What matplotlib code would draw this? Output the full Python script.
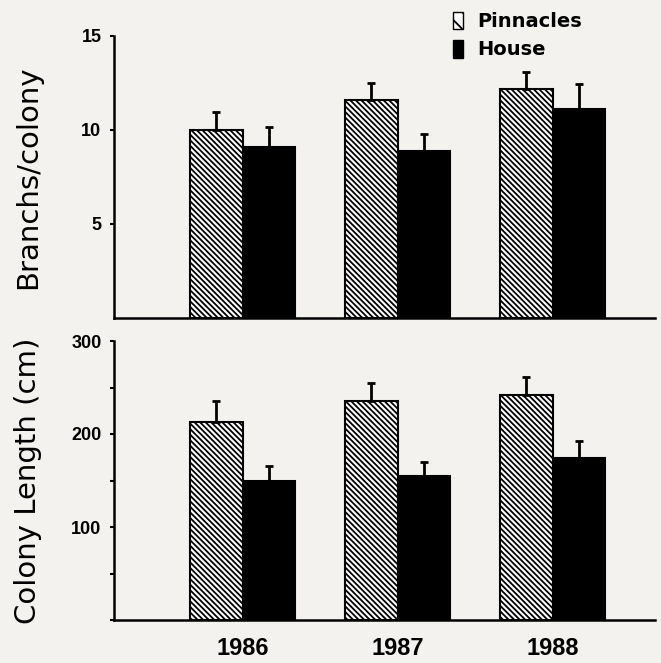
import matplotlib
matplotlib.use("Agg")
import matplotlib.pyplot as plt
import numpy as np
from matplotlib.patches import Patch
from matplotlib.ticker import MultipleLocator

years = ["1986", "1987", "1988"]
series = ["Pinnacles", "House"]
branch_pinn = [10.0, 11.6, 12.2]
branch_pinn_err = [0.95, 0.9, 0.9]
branch_house = [9.1, 8.9, 11.1]
branch_house_err = [1.05, 0.9, 1.35]
length_pinn = [213, 236, 242]
length_pinn_err = [22, 19, 19]
length_house = [149, 155, 174]
length_house_err = [17, 15, 19]

bg = "#f3f2ee"
plt.rcParams["hatch.linewidth"] = 1.3
fig = plt.figure(figsize=(6.61, 6.63), dpi=100, facecolor=bg)
W, H = 661, 663
ax1 = fig.add_axes([114 / W, 1 - 318 / H, (655 - 114) / W, (318 - 36) / H])
ax2 = fig.add_axes([114 / W, 1 - 620 / H, (655 - 114) / W, (620 - 341) / H])

tickfont = dict(family="Liberation Sans", weight="bold", size=13)
hatch = "\\" * 6
x = np.arange(len(years))
bw = 0.34
ekw = dict(ecolor="black", elinewidth=2, capsize=3, capthick=2)
for ax, p, pe, h, he, ylim, major, minor, lab in [
    (ax1, branch_pinn, branch_pinn_err, branch_house, branch_house_err, 15, 5, None, "Branchs/colony"),
    (ax2, length_pinn, length_pinn_err, length_house, length_house_err, 300, 100, 50, "Colony Length (cm)"),
]:
    ax.set_facecolor(bg)
    ax.bar(x - bw / 2, p, bw, color="white", edgecolor="black", hatch=hatch, linewidth=1.5,
           yerr=[np.zeros(3), pe], error_kw=ekw)
    ax.bar(x + bw / 2, h, bw, color="black", edgecolor="black", linewidth=1.5,
           yerr=[np.zeros(3), he], error_kw=ekw)
    ax.set_xlim(-0.83, 2.66)
    ax.set_ylim(0, ylim)
    ax.set_yticks(np.arange(major, ylim + 1, major))
    if minor:
        ax.yaxis.set_minor_locator(MultipleLocator(minor))
    for s in ["top", "right"]:
        ax.spines[s].set_visible(False)
    ax.spines["left"].set_linewidth(1.8)
    ax.spines["bottom"].set_linewidth(1.8)
    ax.tick_params(axis="y", which="both", direction="out", length=3, width=1.5, pad=6)
    ax.tick_params(axis="x", length=0)
    for t in ax.get_yticklabels():
        t.set_fontproperties(tickfont)
    ax.set_ylabel(lab, fontsize=21, family="DejaVu Sans")
    ax.yaxis.set_label_coords(-0.133, 0.5)

ax1.set_xticks([])
ax2.set_xticks(x)
ax2.set_xticklabels(years, family="Liberation Sans", fontsize=17, fontweight="bold")
ax2.tick_params(axis="x", pad=12)

handles = [Patch(facecolor="white", edgecolor="black", hatch="\\\\", label=series[0]),
           Patch(facecolor="black", edgecolor="black", label=series[1])]
leg = fig.legend(handles=handles, loc="upper left", bbox_to_anchor=(453 / W, 1 - 12 / H),
                 frameon=False, prop=dict(family="DejaVu Sans", weight="bold", size=14),
                 handlelength=0.52, handleheight=1.0, borderpad=0, borderaxespad=0,
                 handletextpad=0.72, labelspacing=0.45)

fig.savefig("out.png", dpi=100, facecolor=bg)
